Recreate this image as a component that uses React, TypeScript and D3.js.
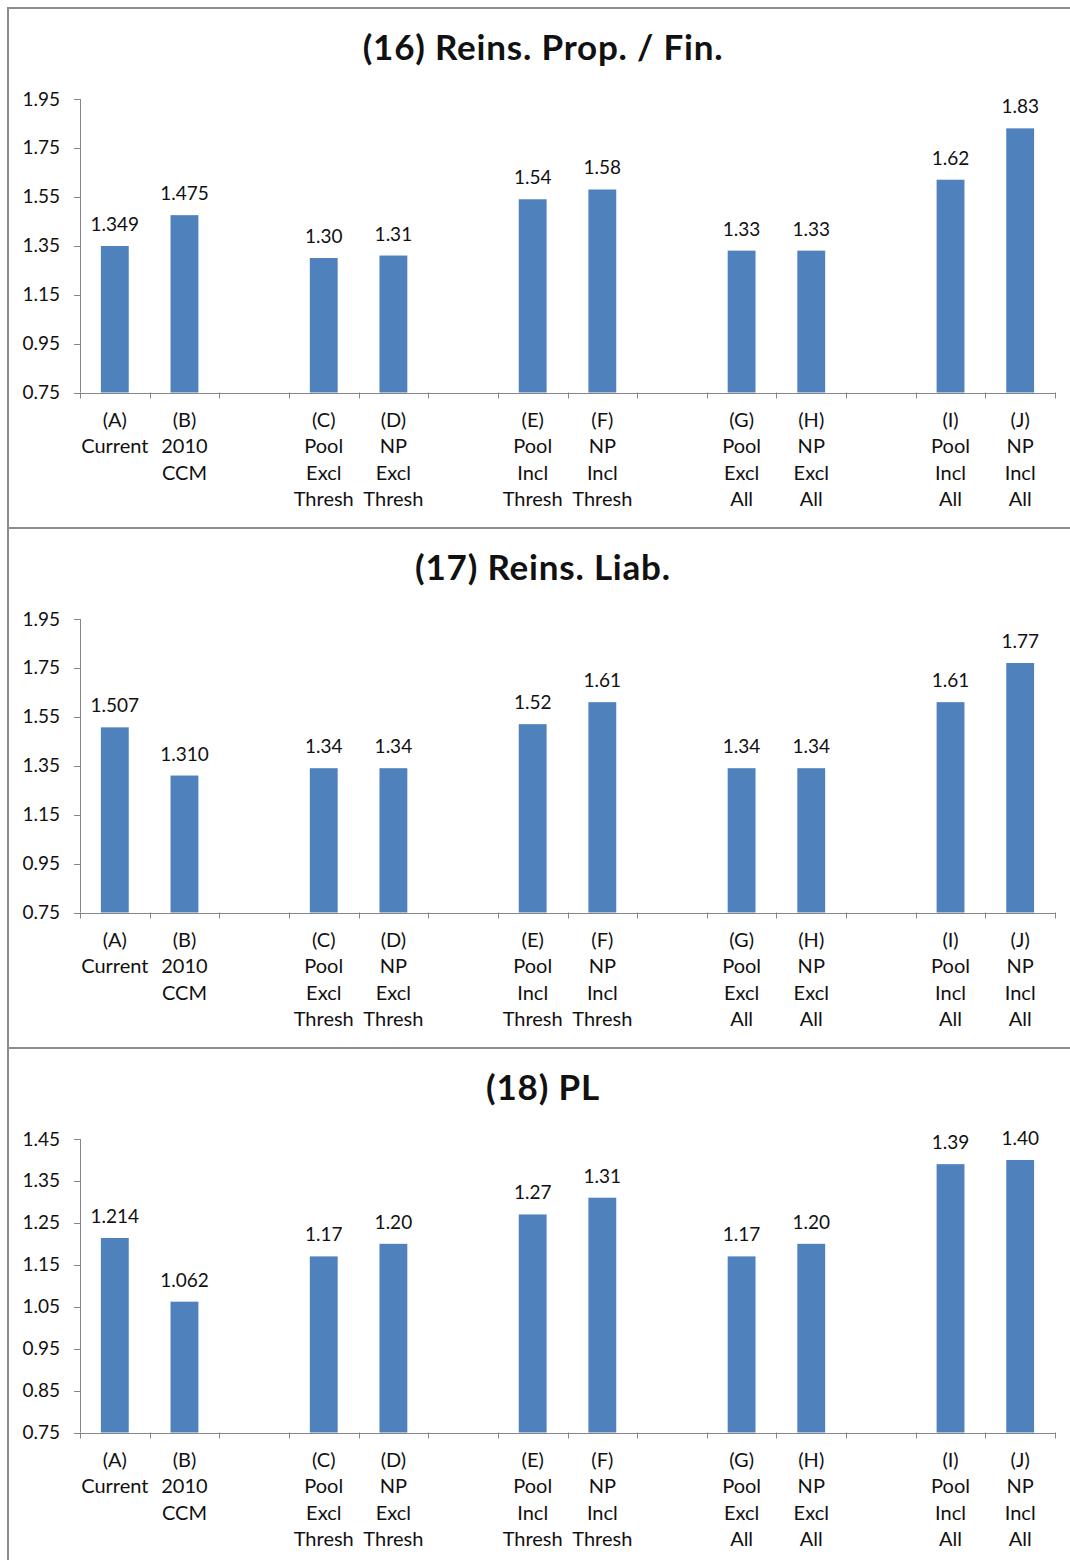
import React from "react";
import * as d3 from "d3";

// Slots along the x axis; the "gap" slots stay empty and separate the groups.
const slotIds = ["A", "B", "gap1", "C", "D", "gap2", "E", "F", "gap3", "G", "H", "gap4", "I", "J"];
const barIds = ["A", "B", "C", "D", "E", "F", "G", "H", "I", "J"];

const slotLabels: Record<string, string[]> = {
  A: ["(A)", "Current"],
  B: ["(B)", "2010", "CCM"],
  C: ["(C)", "Pool", "Excl", "Thresh"],
  D: ["(D)", "NP", "Excl", "Thresh"],
  E: ["(E)", "Pool", "Incl", "Thresh"],
  F: ["(F)", "NP", "Incl", "Thresh"],
  G: ["(G)", "Pool", "Excl", "All"],
  H: ["(H)", "NP", "Excl", "All"],
  I: ["(I)", "Pool", "Incl", "All"],
  J: ["(J)", "NP", "Incl", "All"],
};

// Decimal places shown in each bar's value label
const labelDecimals = [3, 3, 2, 2, 2, 2, 2, 2, 2, 2];

const reinsPropFinValues = [1.349, 1.475, 1.3, 1.31, 1.54, 1.58, 1.33, 1.33, 1.62, 1.83];
const reinsLiabValues = [1.507, 1.31, 1.34, 1.34, 1.52, 1.61, 1.34, 1.34, 1.61, 1.77];
const plValues = [1.214, 1.062, 1.17, 1.2, 1.27, 1.31, 1.17, 1.2, 1.39, 1.4];

const ticksWide = [0.75, 0.95, 1.15, 1.35, 1.55, 1.75, 1.95];
const ticksNarrow = [0.75, 0.85, 0.95, 1.05, 1.15, 1.25, 1.35, 1.45];

const panels = [
  { title: "(16) Reins. Prop. / Fin.", values: reinsPropFinValues, ticks: ticksWide },
  { title: "(17) Reins. Liab.", values: reinsLiabValues, ticks: ticksWide },
  { title: "(18) PL", values: plValues, ticks: ticksNarrow },
];

const WIDTH = 1070;
const HEIGHT = 1560;
const PANEL_H = 520;
const FONT = "Lato, 'Open Sans', sans-serif";
const BAR = "#4F81BD";
const AXIS = "#868686";
const INK = "#111111";

const x = d3.scaleBand<string>().domain(slotIds).range([80, 1055]).padding(0);

function Panel({ index, title, values, ticks }: { index: number; title: string; values: number[]; ticks: number[] }) {
  const top = 8 + index * PANEL_H;
  const y = d3
    .scaleLinear()
    .domain([d3.min(ticks)!, d3.max(ticks)!])
    .range([top + 384.5, top + 91]);
  const base = y(d3.min(ticks)!);
  const bw = x.bandwidth() * 0.4;
  const boundaries = slotIds.map((id) => x(id)!).concat([x.range()[1]]);

  return (
    <g>
      <rect x={8} y={top} width={WIDTH + 10} height={PANEL_H} fill="white" stroke="#8c8c8c" strokeWidth={2} />
      <text
        x={543}
        y={top + 52}
        textAnchor="middle"
        fontFamily={FONT}
        fontWeight="bold"
        fontSize={35}
        letterSpacing={0.8}
        fill={INK}
      >
        {title}
      </text>

      {/* y axis */}
      <line x1={80.5} x2={80.5} y1={y(d3.max(ticks)!)} y2={base} stroke={AXIS} />
      {ticks.map((t) => (
        <g key={t}>
          <line x1={74} x2={80.5} y1={Math.round(y(t)) + 0.5} y2={Math.round(y(t)) + 0.5} stroke={AXIS} />
          <text x={60} y={y(t) + 6.5} textAnchor="end" fontFamily={FONT} fontSize={19} fill={INK}>
            {d3.format(".2f")(t)}
          </text>
        </g>
      ))}

      {/* bars and value labels */}
      {barIds.map((id, i) => {
        const cx = x(id)! + x.bandwidth() / 2;
        const v = values[i];
        return (
          <g key={id}>
            <rect x={cx - bw / 2} y={y(v)} width={bw} height={base - y(v)} fill={BAR} />
            <text x={cx} y={y(v) - 15} textAnchor="middle" fontFamily={FONT} fontSize={19} fill={INK}>
              {v.toFixed(labelDecimals[i])}
            </text>
          </g>
        );
      })}

      {/* x axis */}
      <line x1={80} x2={1055} y1={Math.round(base) + 0.5} y2={Math.round(base) + 0.5} stroke={AXIS} />
      {boundaries.map((bx, i) => (
        <line key={i} x1={Math.round(bx) + 0.5} x2={Math.round(bx) + 0.5} y1={base} y2={base + 6} stroke={AXIS} />
      ))}
      {slotIds.map((id) => {
        const lines = slotLabels[id] || [];
        const cx = x(id)! + x.bandwidth() / 2;
        return (
          <text key={id} textAnchor="middle" fontFamily={FONT} fontSize={20} fill={INK}>
            {lines.map((ln, j) => (
              <tspan key={j} x={cx} y={base + 34.5 + j * 26.3}>
                {ln}
              </tspan>
            ))}
          </text>
        );
      })}
    </g>
  );
}

export default function App() {
  return (
    <div style={{ position: "absolute", left: 0, top: 0 }}>
      <svg width={WIDTH} height={HEIGHT} style={{ display: "block", background: "white" }}>
        {panels.map((p, i) => (
          <Panel key={i} index={i} title={p.title} values={p.values} ticks={p.ticks} />
        ))}
      </svg>
    </div>
  );
}
